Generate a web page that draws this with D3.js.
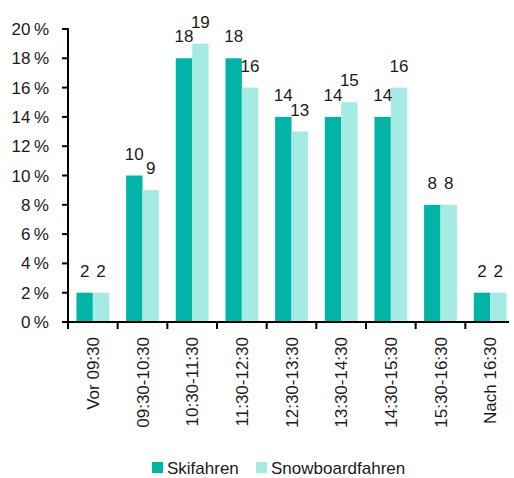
<!DOCTYPE html>
<html>
<head>
<meta charset="utf-8">
<script src="https://cdn.jsdelivr.net/npm/d3@7"></script>
<style>
  body { margin: 0; background: #fff; }
  svg text { font-family: "Liberation Sans Narrow", "Arial Narrow", "Liberation Sans", sans-serif; fill: #1a1a1a; }
</style>
</head>
<body>
<svg id="chart" width="514" height="478"></svg>
<script>
// data
const categories = ['Vor 09:30', '09:30-10:30', '10:30-11:30', '11:30-12:30', '12:30-13:30',
    '13:30-14:30', '14:30-15:30', '15:30-16:30', 'Nach 16:30']
const skiValues = [2, 10, 18, 18, 14, 14, 14, 8, 2]
const snowboardValues = [2, 9, 19, 16, 13, 15, 16, 8, 2]
const seriesNames = ['Skifahren', 'Snowboardfahren']
const yTicks = [0, 2, 4, 6, 8, 10, 12, 14, 16, 18, 20]

const colors = ['#00b4a8', '#a5ebe3']
const fontSize = 17

var svg = d3.select('#chart')
const plotLeft = 68, plotRight = 515, plotTop = 29, plotBottom = 322

var x = d3.scaleBand().domain(categories).range([plotLeft, plotRight]).paddingInner(0.34).paddingOuter(0.17)
var xSub = d3.scaleBand().domain(seriesNames).range([0, x.bandwidth()])
var y = d3.scaleLinear().domain([0, 20]).range([plotBottom, plotTop])

// bars
var rows = categories.map((c, i) => ({ cat: c, vals: [skiValues[i], snowboardValues[i]] }))
var groups = svg.selectAll('g.grp').data(rows).enter().append('g')
    .attr('class', 'grp')
    .attr('transform', d => `translate(${x(d.cat)},0)`)

groups.selectAll('rect').data(d => d.vals.map((v, k) => ({ v, k })))
    .enter().append('rect')
    .attr('x', d => xSub(seriesNames[d.k]))
    .attr('width', xSub.bandwidth())
    .attr('y', d => y(d.v))
    .attr('height', d => plotBottom - y(d.v))
    .style('fill', d => colors[d.k])

groups.selectAll('text.val').data(d => d.vals.map((v, k) => ({ v, k })))
    .enter().append('text')
    .attr('class', 'val')
    .attr('x', d => xSub(seriesNames[d.k]) + xSub.bandwidth() / 2)
    .attr('y', d => y(d.v) - 16)
    .attr('text-anchor', 'middle')
    .style('font-size', fontSize + 'px')
    .text(d => d.v)

// y axis
var yAxis = svg.append('g')
yAxis.append('line')
    .attr('x1', plotLeft).attr('x2', plotLeft).attr('y1', plotTop - 1).attr('y2', plotBottom + 7)
    .style('stroke', '#000').style('stroke-width', 2)
yAxis.selectAll('line.tick').data(yTicks).enter().append('line')
    .attr('class', 'tick')
    .attr('x1', plotLeft - 6).attr('x2', plotLeft).attr('y1', d => y(d)).attr('y2', d => y(d))
    .style('stroke', '#000').style('stroke-width', 2)
yAxis.selectAll('text').data(yTicks).enter().append('text')
    .attr('x', 49).attr('y', d => y(d) + 6)
    .attr('text-anchor', 'end')
    .style('font-size', fontSize + 'px')
    .text(d => d + '\u2009%')

// x axis
var xAxis = svg.append('g')
xAxis.append('line')
    .attr('x1', plotLeft).attr('x2', 509).attr('y1', plotBottom).attr('y2', plotBottom)
    .style('stroke', '#000').style('stroke-width', 2)
xAxis.selectAll('line.tick').data(categories.slice(1)).enter().append('line')
    .attr('class', 'tick')
    .attr('x1', d => x(d) - x.step() * 0.17).attr('x2', d => x(d) - x.step() * 0.17)
    .attr('y1', plotBottom).attr('y2', plotBottom + 7)
    .style('stroke', '#000').style('stroke-width', 2)
xAxis.selectAll('text').data(categories).enter().append('text')
    .attr('transform', d => `translate(${x(d) + x.bandwidth() / 2 + 6},${plotBottom + 15}) rotate(-90)`)
    .attr('text-anchor', 'end')
    .style('font-size', fontSize + 'px')
    .text(d => d)

// legend
var legendX = [152, 256]
var legend = svg.selectAll('g.legend').data(seriesNames).enter().append('g')
    .attr('class', 'legend')
    .attr('transform', (d, i) => `translate(${legendX[i]},462)`)
legend.append('rect').attr('width', 11).attr('height', 11).style('fill', (d, i) => colors[i])
legend.append('text').attr('x', 15).attr('y', 11.5)
    .style('font-size', fontSize + 'px')
    .text(d => d)
</script>
</body>
</html>
